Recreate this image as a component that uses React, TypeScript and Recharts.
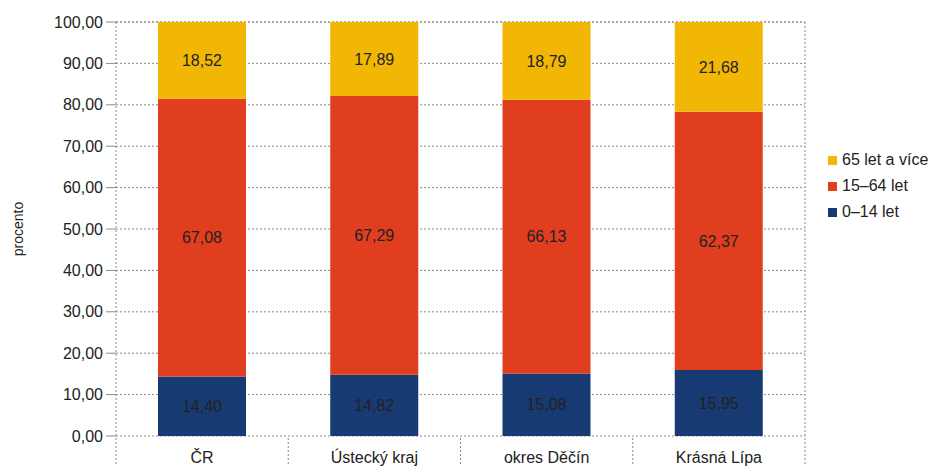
import { Bar, BarChart, CartesianGrid, LabelList, Legend, XAxis, YAxis } from 'recharts'

const categories = ['ČR', 'Ústecký kraj', 'okres Děčín', 'Krásná Lípa']
const age0to14 = [14.4, 14.82, 15.08, 15.95]
const age15to64 = [67.08, 67.29, 66.13, 62.37]
const age65plus = [18.52, 17.89, 18.79, 21.68]
const yTicks = [0, 10, 20, 30, 40, 50, 60, 70, 80, 90, 100]

const SERIES = [
    { key: 'a', name: '0–14 let', color: '#173a72' },
    { key: 'b', name: '15–64 let', color: '#e03e1e' },
    { key: 'c', name: '65 let a více', color: '#f2b705' },
]

const FONT = '"Liberation Sans", Arial, sans-serif'
const GRID = '#8a8a8a'

const data = categories.map((name, i) => ({
    name,
    a: age0to14[i],
    b: age15to64[i],
    c: age65plus[i],
}))

const fmt = (v: unknown) => Number(v).toFixed(2).replace('.', ',')

function CategoryTick(props: any) {
    const { x, y, payload, index, visibleTicksCount } = props
    const half = payload.offset ?? 0
    const isLast = index === visibleTicksCount - 1
    return (
        <g>
            <line x1={x - half} x2={x - half} y1={y} y2={y + 32} stroke={GRID} strokeDasharray="2 2" />
            {isLast && <line x1={x + half} x2={x + half} y1={y} y2={y + 32} stroke={GRID} strokeDasharray="2 2" />}
            <text x={x} y={y + 25} textAnchor="middle" fontSize={16} fill="#222" fontFamily={FONT}>
                {payload.value}
            </text>
        </g>
    )
}

function LegendBox() {
    return (
        <div style={{ fontFamily: FONT, fontSize: 16, color: '#222' }}>
            {[...SERIES].reverse().map((s) => (
                <div key={s.key} style={{ display: 'flex', alignItems: 'center', height: 26 }}>
                    <span style={{ width: 9, height: 9, background: s.color, marginRight: 5, display: 'inline-block' }} />
                    {s.name}
                </div>
            ))}
        </div>
    )
}

export default function App() {
    return (
        <div style={{ position: 'absolute', left: 0, top: 0, background: '#fff' }}>
            <BarChart width={942} height={466} data={data} margin={{ top: 22, right: 137, left: 10, bottom: 0 }}>
                <CartesianGrid
                    stroke={GRID}
                    strokeDasharray="2 2"
                    verticalCoordinatesGenerator={({ offset }: any) => [offset.left, offset.left + offset.width]}
                />
                <XAxis
                    dataKey="name"
                    height={30}
                    axisLine={false}
                    tickLine={false}
                    tickSize={0}
                    tick={<CategoryTick />}
                    interval={0}
                />
                <YAxis
                    width={106}
                    domain={[0, 100]}
                    ticks={yTicks}
                    tickFormatter={fmt}
                    axisLine={false}
                    tickLine={{ stroke: GRID }}
                    tickSize={10}
                    tickMargin={3}
                    tick={{ fontSize: 16, fill: '#222', fontFamily: FONT }}
                    label={{ value: 'procento', angle: -90, position: 'center', dx: -45, fontSize: 14, fill: '#222', fontFamily: FONT }}
                />
                <Legend
                    layout="vertical"
                    align="center"
                    verticalAlign="middle"
                    content={<LegendBox />}
                    wrapperStyle={{ left: 828, top: 147, width: 120 }}
                />
                {SERIES.map((s) => (
                    <Bar key={s.key} dataKey={s.key} name={s.name} stackId="x" fill={s.color} barSize={88} isAnimationActive={false}>
                        <LabelList dataKey={s.key} position="center" formatter={fmt} fontSize={16} fill="#222" fontFamily={FONT} />
                    </Bar>
                ))}
            </BarChart>
        </div>
    )
}
